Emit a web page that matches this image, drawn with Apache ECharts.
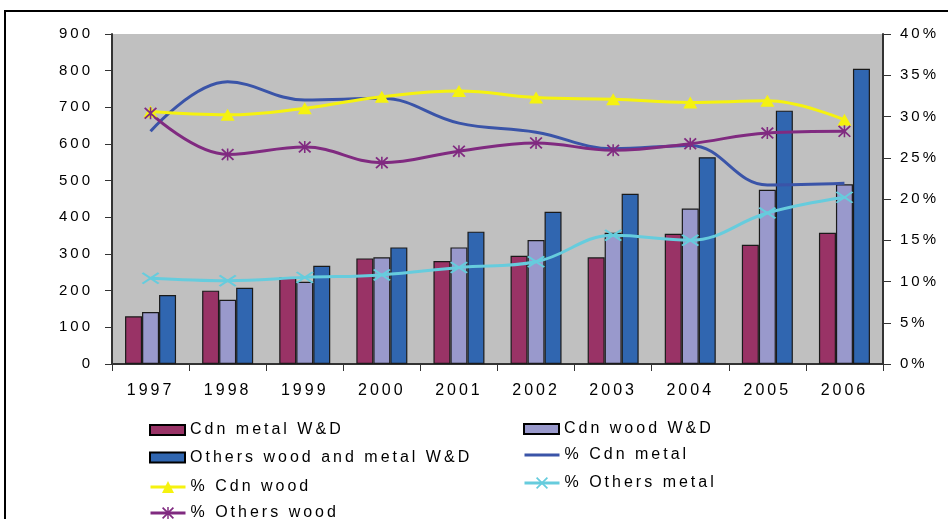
<!DOCTYPE html>
<html>
<head>
<meta charset="utf-8">
<script src="https://cdn.jsdelivr.net/npm/echarts@6/dist/echarts.min.js"></script>
<style>
  html, body { margin: 0; padding: 0; background: #fff; }
  #main { width: 948px; height: 519px; }
</style>
</head>
<body>
<div id="main"></div>
<script>
// the old excel export has widely spaced glyphs, copy that on the canvas
var origFill = CanvasRenderingContext2D.prototype.fillText;
CanvasRenderingContext2D.prototype.fillText = function (t, x, y, w) {
  this.letterSpacing = '3px';
  if (w === undefined) origFill.call(this, t, x, y);
  else origFill.call(this, t, x, y, w);
  this.letterSpacing = '0px';
};

var years = ['1997', '1998', '1999', '2000', '2001', '2002', '2003', '2004', '2005', '2006'];

var cdnMetal = [130, 200, 236, 288, 281, 295, 291, 355, 325, 358];
var cdnWood = [142, 175, 224, 291, 318, 338, 358, 424, 475, 490];
var othersAll = [188, 208, 268, 318, 361, 415, 464, 564, 691, 805];

var pctCdnMetal = [28.2, 34.2, 32.0, 32.2, 29.2, 28.1, 26.1, 26.5, 21.7, 21.9];
var pctCdnWood = [30.6, 30.2, 31.0, 32.4, 33.1, 32.3, 32.1, 31.7, 31.9, 29.6];
var pctOthersMetal = [10.4, 10.1, 10.5, 10.8, 11.7, 12.4, 15.6, 15.0, 18.3, 20.2];
var pctOthersWood = [30.4, 25.4, 26.3, 24.4, 25.8, 26.8, 25.9, 26.7, 28.0, 28.2];

var xMark = 'path://M0,1 L1,0 L5,4 L9,0 L10,1 L6,5 L10,9 L9,10 L5,6 L1,10 L0,9 L4,5 Z';
var starMark = 'path://M0,1 L1,0 L5,4 L9,0 L10,1 L6,5 L10,9 L9,10 L5,6 L1,10 L0,9 L4,5 Z M4.4,0 L5.6,0 L5.6,10 L4.4,10 Z';
// plain line for the legend entry of the series without markers
var plainLine = 'path://M0,0 L0.01,0 L0.01,0.01 Z M0,6 L35,6 L35,9 L0,9 Z M34.99,15 L35,15 L35,14.99 Z';

var font = 'Liberation Sans, Arial, sans-serif';

var chart = echarts.init(document.getElementById('main'));

function barSeries(name, data, color) {
  return {
    name: name,
    type: 'bar',
    data: data,
    barWidth: 17,
    barGap: '0%',
    itemStyle: { color: color, borderColor: '#1a1a1a', borderWidth: 1.2 }
  };
}

function lineSeries(name, data, color, symbol, size) {
  return {
    name: name,
    type: 'line',
    yAxisIndex: 1,
    data: data,
    smooth: 0.4,
    symbol: symbol,
    symbolSize: size,
    showAllSymbol: true,
    z: 5,
    lineStyle: { color: color, width: 3 },
    itemStyle: { color: color }
  };
}

var legendText = { fontSize: 16, color: '#000', fontFamily: font, lineHeight: 16 };

function barLegend(left, top, names) {
  return {
    orient: 'vertical',
    left: left,
    top: top,
    height: 140,
    padding: 0,
    icon: 'rect',
    itemWidth: 35,
    itemHeight: 10,
    itemGap: 11.5,
    itemStyle: { borderColor: '#000', borderWidth: 2 },
    textStyle: legendText,
    data: names
  };
}

function lineLegend(left, top, gap, names) {
  return {
    orient: 'vertical',
    left: left,
    top: top,
    height: 140,
    padding: 0,
    itemWidth: 35,
    itemHeight: 15,
    itemGap: gap,
    lineStyle: { width: 3 },
    textStyle: legendText,
    data: names
  };
}

var option = {
  animation: false,
  backgroundColor: '#fff',
  textStyle: { fontFamily: font, color: '#000' },
  graphic: [{
    type: 'rect',
    shape: { x: 5, y: 11, width: 1000, height: 1000 },
    style: { fill: 'none', stroke: '#000', lineWidth: 2 },
    silent: true
  }],
  grid: {
    left: 112,
    right: 65,
    top: 34,
    bottom: 155,
    show: true,
    backgroundColor: '#C0C0C0',
    borderWidth: 0
  },
  legend: [
    barLegend(149, 422, ['Cdn metal W&D', 'Others wood and metal W&D']),
    lineLegend(149, 479, 10, ['% Cdn wood', '% Others wood']),
    barLegend(523, 421, ['Cdn wood W&D']),
    lineLegend(523, 447, 12, [{ name: '% Cdn metal', icon: plainLine }, '% Others metal'])
  ],
  xAxis: {
    type: 'category',
    data: years,
    axisLine: { lineStyle: { color: '#333', width: 2 } },
    axisTick: { show: true, length: 7, lineStyle: { color: '#333' } },
    axisLabel: { fontSize: 16, color: '#000', margin: 19, fontFamily: font }
  },
  yAxis: [{
    type: 'value',
    min: 0,
    max: 900,
    interval: 100,
    splitLine: { show: false },
    axisLine: { show: true, lineStyle: { color: '#333', width: 2 } },
    axisTick: { show: true, length: 7, lineStyle: { color: '#333' } },
    axisLabel: { fontSize: 15, color: '#000', margin: 19, fontFamily: font }
  }, {
    type: 'value',
    min: 0,
    max: 40,
    interval: 5,
    position: 'right',
    splitLine: { show: false },
    axisLine: { show: true, lineStyle: { color: '#333', width: 2 } },
    axisTick: { show: true, length: 8, lineStyle: { color: '#333' } },
    axisLabel: { fontSize: 15, color: '#000', margin: 17, fontFamily: font, formatter: '{value}%' }
  }],
  series: [
    barSeries('Cdn metal W&D', cdnMetal, '#993366'),
    barSeries('Cdn wood W&D', cdnWood, '#9999CC'),
    barSeries('Others wood and metal W&D', othersAll, '#3066B0'),
    lineSeries('% Cdn metal', pctCdnMetal, '#3A54A8', 'none', 0),
    lineSeries('% Cdn wood', pctCdnWood, '#F5F20F', 'triangle', [14, 12]),
    lineSeries('% Others metal', pctOthersMetal, '#66CCDD', xMark, [18, 12]),
    lineSeries('% Others wood', pctOthersWood, '#802A80', starMark, [13, 12])
  ]
};

chart.setOption(option);
window.addEventListener('resize', function () {
  chart.resize();
});
</script>
</body>
</html>
